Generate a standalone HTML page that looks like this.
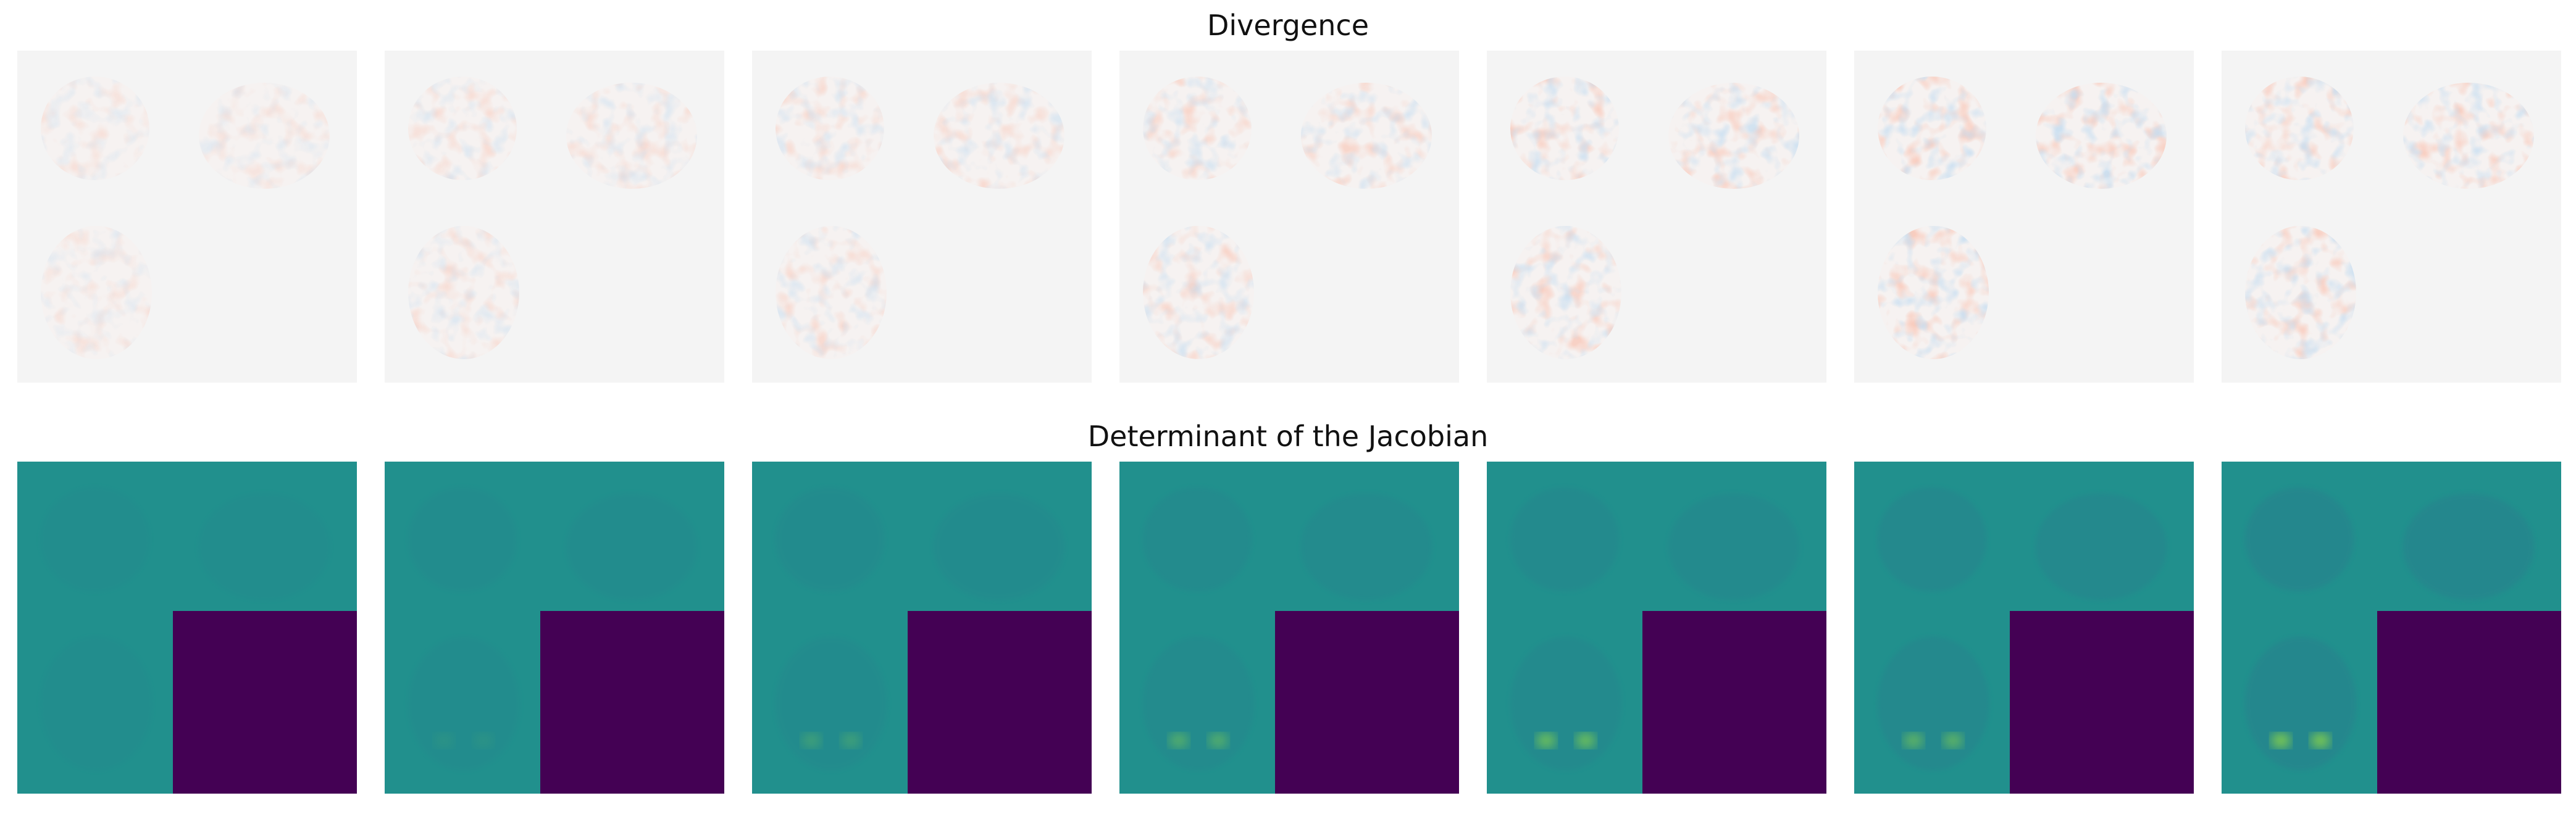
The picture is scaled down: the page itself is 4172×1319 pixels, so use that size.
<!DOCTYPE html>
<html><head><meta charset="utf-8"><style>
html,body{margin:0;padding:0;background:#fff;}
body{width:4172px;height:1319px;position:relative;overflow:hidden;font-family:"DejaVu Sans","Liberation Sans",sans-serif;}
.title{position:absolute;left:0;width:4172px;text-align:center;font-size:46px;color:#111;}
</style></head><body>
<div class="title" style="top:14px">Divergence</div>
<div class="title" style="top:680px">Determinant of the Jacobian</div>
<svg id="fig" width="4172" height="1319" style="position:absolute;left:0;top:0">
<defs>
<filter id="noiseR" x="0" y="0" width="100%" height="100%"><feTurbulence type="fractalNoise" baseFrequency="0.035" numOctaves="2" seed="3"/><feColorMatrix type="matrix" values="0 0 0 0 0.95  0 0 0 0 0.55  0 0 0 0 0.45  3 0 0 0 -1.5"/></filter>
<filter id="noiseB" x="0" y="0" width="100%" height="100%"><feTurbulence type="fractalNoise" baseFrequency="0.04" numOctaves="2" seed="9"/><feColorMatrix type="matrix" values="0 0 0 0 0.55  0 0 0 0 0.72  0 0 0 0 0.88  3 0 0 0 -1.5"/></filter>
<filter id="blur"><feGaussianBlur stdDeviation="9"/></filter>
<filter id="soft"><feGaussianBlur stdDeviation="4"/></filter>
</defs>
</svg>
<script>
// per-panel intensity (visual strength of deformation)
const panels = [1,2,3,4,5,6,7];
const divStrength = [0.35,0.45,0.5,0.6,0.7,0.8,0.75];
const jacStrength = [0.1,0.2,0.3,0.4,0.5,0.7,0.9];
const hotspot = [0.0,0.1,0.3,0.5,0.75,0.6,0.9];

const svg=document.getElementById('fig');
const NS='http://www.w3.org/2000/svg';
const x0=28, pitch=595, W=550, H=538, yTop=82, yBot=748;
function el(t,a,p){const e=document.createElementNS(NS,t);for(const k in a)e.setAttribute(k,a[k]);(p||svg).appendChild(e);return e;}
// brain shapes relative to panel
const shapes=[
 {cx:126,cy:126,rx:88,ry:84},
 {cx:400,cy:138,rx:106,ry:86},
 {cx:128,cy:392,rx:90,ry:108}
];
panels.forEach((p,i)=>{
  const px=x0+i*pitch;
  const g=el('g',{});
  
  
  el('rect',{x:px,y:yTop,width:W,height:H,fill:'#f4f4f4'},g);
  shapes.forEach((s,j)=>{
    const cid='c'+i+'_'+j;
    const cp=el('clipPath',{id:cid},g);
    el('ellipse',{cx:px+s.cx,cy:yTop+s.cy,rx:s.rx,ry:s.ry},cp);
    const b=el('g',{'clip-path':'url(#'+cid+')'},g);
    el('rect',{x:px+s.cx-s.rx,y:yTop+s.cy-s.ry,width:2*s.rx,height:2*s.ry,fill:'#f6f2f1'},b);
    el('rect',{x:px+s.cx-s.rx,y:yTop+s.cy-s.ry,width:2*s.rx,height:2*s.ry,filter:'url(#noiseR)',opacity:divStrength[i]},b);
    el('rect',{x:px+s.cx-s.rx,y:yTop+s.cy-s.ry,width:2*s.rx,height:2*s.ry,filter:'url(#noiseB)',opacity:divStrength[i]},b);
  });
  const h=el('g',{});
  
  
  el('rect',{x:px,y:yBot,width:W,height:H,fill:'#21908d'},h);
  shapes.forEach((s,j)=>{
    el('ellipse',{cx:px+s.cx,cy:yBot+s.cy,rx:s.rx,ry:s.ry,fill:'#2a7b8e',opacity:0.1+0.35*jacStrength[i],filter:'url(#soft)'},h);
  });
  const s=shapes[2];
  [-1,1].forEach(d=>{
    el('ellipse',{cx:px+s.cx+d*32,cy:yBot+s.cy+60,rx:16,ry:12,fill:'#8fd744',opacity:hotspot[i],filter:'url(#blur)'},h);
  });
  el('rect',{x:px+252,y:yBot+242,width:W-252,height:H-242,fill:'#440154'},h);
});
</script>
</body></html>
